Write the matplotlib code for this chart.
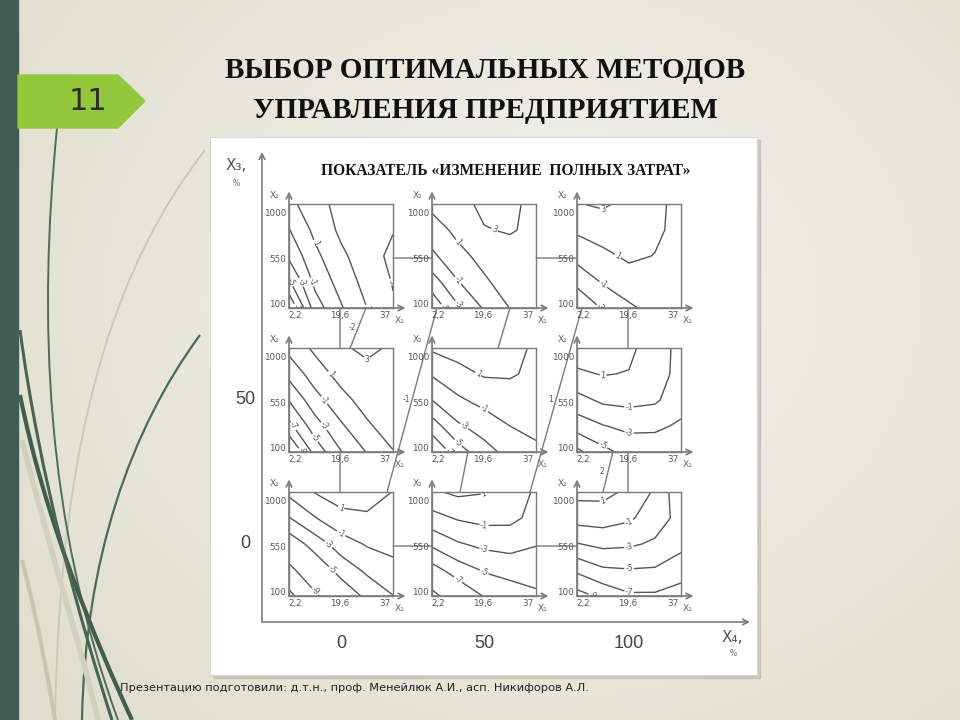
import numpy as np
import matplotlib
matplotlib.use("Agg")
import matplotlib.pyplot as plt
from matplotlib.patches import Polygon, Rectangle, PathPatch, ConnectionPatch
from matplotlib.path import Path

W, H = 960, 720

# grid of the response surfaces (x1 across, x2 up)
x1_nodes = [0, 10, 20, 30, 40]
x2_nodes = [60, 315, 570, 825, 1080]
x1_ticks = [2.2, 19.6, 37]
x1_ticklabels = ["2,2", "19,6", "37"]
x2_ticks = [100, 550, 1000]
x2_ticklabels = ["100", "550", "1000"]

row_labels = ["", "50", "0"]      # X3, %
col_labels = ["0", "50", "100"]   # X4, %

# "изменение полных затрат", rows of each grid go from x2=60 up to x2=1080
z_x3_100_x4_0 = [[-9.0, -2.0, 0.8, 3.0, 4.8],
                 [-5.3, -0.5, 1.75, 3.7, 5.1],
                 [-2.6, 0.5, 2.6, 4.1, 5.5],
                 [-1.1, 1.5, 3.4, 4.3, 4.9],
                 [0.4, 2.3, 3.6, 4.3, 4.6]]
z_x3_100_x4_50 = [[-6.5, -3.3, -0.8, 1.05, 2.0],
                  [-4.0, -1.1, 0.7, 1.9, 2.4],
                  [-1.4, 0.43, 1.6, 2.3, 2.6],
                  [0.1, 1.5, 2.9, 3.15, 2.6],
                  [1.5, 2.4, 3.4, 3.3, 2.6]]
z_x3_100_x4_100 = [[-4.8, -2.8, -1.35, -0.3, -0.3],
                   [-2.5, -0.8, 0.2, 0.6, 0.1],
                   [-0.3, 0.6, 1.3, 0.95, 0.4],
                   [1.3, 1.8, 2.0, 1.3, 0.5],
                   [2.9, 3.3, 2.4, 1.4, 0.5]]
z_x3_50_x4_0 = [[-11.5, -6.3, -3.1, -0.9, 0.9],
                [-7.6, -3.9, -1.3, 0.7, 2.0],
                [-4.9, -1.75, 0.36, 1.8, 2.5],
                [-2.4, 0.0, 1.7, 2.6, 2.8],
                [-0.4, 1.4, 2.8, 3.3, 2.8]]
z_x3_50_x4_50 = [[-9.0, -5.9, -3.8, -2.3, -1.4],
                 [-6.0, -3.3, -2.1, -1.0, -0.5],
                 [-3.0, -1.3, -0.4, 0.1, 0.3],
                 [-0.8, 0.3, 1.2, 1.2, 0.6],
                 [1.3, 1.9, 2.1, 1.6, 0.7]]
z_x3_50_x4_100 = [[-7.5, -5.6, -4.3, -4.2, -4.0],
                  [-4.1, -3.1, -2.5, -2.6, -3.3],
                  [-1.7, -0.6, -0.4, -0.7, -2.2],
                  [0.7, 1.1, 0.9, -0.2, -1.6],
                  [2.0, 2.4, 1.5, -0.2, -1.5]]
z_x3_0_x4_0 = [[-14.0, -9.5, -6.6, -4.5, -3.05],
               [-9.8, -6.6, -4.2, -2.6, -1.6],
               [-6.4, -4.1, -2.0, -0.8, -0.4],
               [-3.1, -1.1, 0.5, 0.7, 0.5],
               [-0.5, 1.1, 1.8, 1.9, 0.95]]
z_x3_0_x4_50 = [[-12.0, -8.7, -6.9, -6.2, -5.4],
                [-7.8, -6.0, -4.8, -4.2, -4.0],
                [-4.6, -3.2, -2.5, -2.3, -2.9],
                [-1.7, -0.8, -0.4, -0.5, -1.6],
                [0.7, 1.4, 1.1, 0.2, -1.3]]
z_x3_0_x4_100 = [[-9.8, -8.5, -7.3, -7.3, -8.2],
                 [-6.6, -5.3, -5.1, -5.2, -5.8],
                 [-3.1, -2.5, -2.7, -3.3, -4.6],
                 [-0.2, -0.1, -0.7, -2.0, -3.7],
                 [1.6, 1.6, 0.6, -1.3, -4.5]]

surfaces = [[z_x3_100_x4_0, z_x3_100_x4_50, z_x3_100_x4_100],
            [z_x3_50_x4_0, z_x3_50_x4_50, z_x3_50_x4_100],
            [z_x3_0_x4_0, z_x3_0_x4_50, z_x3_0_x4_100]]

levels = [[[-7, -5, -3, -1, 1, 3, 5], [-5, -3, -1, 1, 3], [-3, -1, 1, 3]],
          [[-9, -7, -5, -3, -1, 1, 3], [-7, -5, -3, -1, 1], [-7, -5, -3, -1, 1]],
          [[-13, -9, -5, -3, -1, 1], [-11, -7, -5, -3, -1, 1], [-9, -7, -5, -3, -1, 1]]]

# lines joining neighbouring plots: (row, col, x1, x2) -> (row, col, x1, x2), label
links = [((0, 0, 19.6, 60), (1, 0, 19.6, 1080), ""),
         ((0, 0, 29.6, 60), (1, 0, 23.5, 1080), "-2"),
         ((0, 1, 30.0, 60), (1, 1, 25.4, 1080), ""),
         ((0, 1, 1.9, 60), (2, 0, 37.7, 1080), "-1"),
         ((0, 2, 1.9, 60), (2, 1, 37.7, 1080), "1"),
         ((0, 2, 19.6, 60), (1, 2, 19.6, 1080), ""),
         ((1, 0, 19.6, 60), (2, 0, 19.6, 1080), ""),
         ((1, 1, 13.8, 60), (2, 1, 10.8, 1080), ""),
         ((1, 2, 13.8, 60), (2, 2, 10.0, 1080), "2"),
         ((1, 2, 19.6, 60), (2, 2, 19.6, 1080), ""),
         ((0, 0, 40, 550), (0, 1, 0, 550), ""),
         ((0, 1, 40, 550), (0, 2, 0, 550), ""),
         ((2, 0, 40, 550), (2, 1, 0, 550), ""),
         ((2, 1, 40, 550), (2, 2, 0, 550), "")]

col_left = [289, 432, 577]
row_top = [204, 348, 492]
box = 104

GRAY = "#555555"
LIGHT = "#7a7a7a"


def fx(px):
    return px / W


def fy(py):
    return 1 - py / H


fig = plt.figure(figsize=(9.6, 7.2), dpi=100)

# slide background
bg = fig.add_axes([0, 0, 1, 1])
bg.set_xlim(0, W)
bg.set_ylim(H, 0)
bg.axis("off")
yy, xx = np.mgrid[0:H:4, 0:W:4]
r = np.sqrt(((xx - 560) / 700.0) ** 2 + ((yy - 300) / 600.0) ** 2)
c0 = np.array([0.955, 0.952, 0.925])
c1 = np.array([0.88, 0.87, 0.81])
t = np.clip(r, 0, 1)[..., None]
bg.imshow(c0 * (1 - t) + c1 * t, extent=(0, W, H, 0), aspect="auto", zorder=0)

bg.add_patch(Rectangle((0, 0), 18, H, color="#405e4f", zorder=1))

# grass strands
strands = [((205, 150), (120, 260), (60, 420), (55, 720), "#c9c9b6", 1.3),
           ((200, 335), (130, 430), (85, 560), (82, 720), "#4b6b57", 1.6),
           ((57, 128), (38, 320), (45, 520), (118, 720), "#4f6e5a", 1.4),
           ((20, 395), (45, 520), (95, 640), (132, 720), "#3f5e4c", 3.0),
           ((20, 330), (40, 480), (80, 620), (112, 720), "#466553", 2.2),
           ((22, 440), (55, 570), (85, 660), (98, 720), "#d2d1c0", 4.0),
           ((22, 560), (40, 630), (50, 690), (55, 720), "#c6c5b2", 3.0)]
for p0, p1, p2, p3, col, lw in strands:
    path = Path([p0, p1, p2, p3], [Path.MOVETO, Path.CURVE4, Path.CURVE4, Path.CURVE4])
    bg.add_patch(PathPatch(path, fc="none", ec=col, lw=lw, zorder=2))

bg.add_patch(Polygon([(18, 75), (118, 75), (145, 101), (118, 128), (18, 128)],
                     closed=True, color="#93c83d", zorder=3))
bg.text(88, 101, "11", ha="center", va="center", fontsize=22, color="#2e2e2e",
        family="DejaVu Sans", zorder=4)

# white picture frame
bg.add_patch(Rectangle((213, 140), 547, 538, color="#b9b7a8", alpha=0.6, zorder=3))
bg.add_patch(Rectangle((210, 137), 547, 538, fc="white", ec="#d4d4d4", lw=0.8, zorder=4))

fig.text(fx(485), fy(70), "ВЫБОР ОПТИМАЛЬНЫХ МЕТОДОВ", ha="center", va="center",
         fontsize=21, fontweight="bold", family="Liberation Serif", color="#111111")
fig.text(fx(485), fy(111), "УПРАВЛЕНИЯ ПРЕДПРИЯТИЕМ", ha="center", va="center",
         fontsize=21, fontweight="bold", family="Liberation Serif", color="#111111")
fig.text(fx(506), fy(171), "ПОКАЗАТЕЛЬ «ИЗМЕНЕНИЕ  ПОЛНЫХ ЗАТРАТ»", ha="center",
         va="center", fontsize=11.2, fontweight="bold", family="Liberation Serif",
         color="#111111", zorder=10)

# big X3 / X4 axes
arrow = dict(arrowstyle="->", color=LIGHT, lw=1.2, shrinkA=0, shrinkB=0)
bg.annotate("", xy=(262, 152), xytext=(262, 622), arrowprops=arrow, zorder=5)
bg.annotate("", xy=(750, 622), xytext=(262, 622), arrowprops=arrow, zorder=5)
bg.text(226, 165, "X₃,", fontsize=11, color="#555555", va="center", zorder=6)
bg.text(233, 184, "%", fontsize=5.5, color="#666666", va="center", zorder=6)
bg.text(722, 637, "X₄,", fontsize=11, color="#555555", va="center", zorder=6)
bg.text(730, 654, "%", fontsize=5.5, color="#666666", va="center", zorder=6)

for i, lab in enumerate(row_labels):
    bg.text(245, row_top[i] + box / 2, lab, ha="center", va="center", fontsize=13,
            color="#444444", family="Liberation Sans", zorder=6)
for j, lab in enumerate(col_labels):
    bg.text(col_left[j] + box / 2, 643, lab, ha="center", va="center", fontsize=13,
            color="#444444", family="Liberation Sans", zorder=6)

fig.text(fx(120), fy(688),
         "Презентацию подготовили: д.т.н., проф. Менейлюк А.И., асп. Никифоров А.Л.",
         ha="left", va="center", fontsize=8.2, color="#222222", family="DejaVu Sans")

# the nine contour plots
X1, X2 = np.meshgrid(x1_nodes, x2_nodes)
axs = [[None] * 3 for _ in range(3)]
for i in range(3):
    for j in range(3):
        ax = fig.add_axes([fx(col_left[j]), fy(row_top[i] + box), box / W, box / H])
        ax.set_facecolor("none")
        ax.set_zorder(8)
        Z = np.array(surfaces[i][j])
        cs = ax.contour(X1, X2, Z, levels=levels[i][j], colors=GRAY, linewidths=1.0,
                        linestyles="solid")
        ax.clabel(cs, fmt=lambda v: f"{v:g}", fontsize=5.5, inline=True,
                  inline_spacing=1, colors=GRAY)
        ax.set_xlim(0, 40)
        ax.set_ylim(60, 1080)
        ax.set_xticks(x1_ticks)
        ax.set_xticklabels(x1_ticklabels)
        ax.set_yticks(x2_ticks)
        ax.set_yticklabels(x2_ticklabels)
        ax.tick_params(length=0, labelsize=6.3, labelcolor="#555555", pad=2)
        for s in ax.spines.values():
            s.set_color(LIGHT)
            s.set_linewidth(1.0)
        ax.annotate("", xy=(0, 1.12), xytext=(0, 0), xycoords="axes fraction",
                    arrowprops=arrow, annotation_clip=False)
        ax.annotate("", xy=(1.12, 0), xytext=(0, 0), xycoords="axes fraction",
                    arrowprops=arrow, annotation_clip=False)
        ax.text(-0.14, 1.08, "X₂", transform=ax.transAxes, fontsize=6.5,
                color="#666666", ha="center", va="center")
        ax.text(1.06, -0.12, "X₁", transform=ax.transAxes, fontsize=6.5,
                color="#666666", ha="center", va="center")
        axs[i][j] = ax

inv = fig.transFigure.inverted()
for (ra, ca, xa, ya), (rb, cb, xb, yb), lab in links:
    axA, axB = axs[ra][ca], axs[rb][cb]
    con = ConnectionPatch(xyA=(xa, ya), coordsA="data", axesA=axA,
                          xyB=(xb, yb), coordsB="data", axesB=axB,
                          color=LIGHT, lw=1.0, zorder=7)
    fig.add_artist(con)
    if lab:
        pa = axA.transData.transform((xa, ya))
        pb = axB.transData.transform((xb, yb))
        mx, my = inv.transform((pa + pb) / 2)
        fig.text(mx - 0.006, my, lab, fontsize=5.5, color=GRAY, ha="center",
                 va="center", zorder=9,
                 bbox=dict(fc="white", ec="none", pad=0.3))

fig.savefig("out.png", dpi=100)
